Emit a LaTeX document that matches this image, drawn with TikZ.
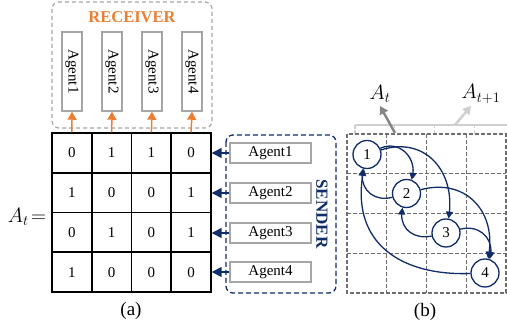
\documentclass[tikz,border=0pt]{standalone}
\usepackage{fontspec}
\setmainfont{Liberation Serif}
\usetikzlibrary{arrows.meta,bending}
\definecolor{orng}{HTML}{ED7D31}
\definecolor{navy}{RGB}{16,45,105}
\definecolor{boxgray}{HTML}{A6A6A6}
\definecolor{gridgray}{HTML}{6F6F6F}
\definecolor{lightg}{HTML}{CFCFCF}
\tikzset{
  txt/.style={font=\fontsize{15}{18}\selectfont, inner sep=0pt},
  cell/.style={draw=black, line width=1.5pt, minimum width=39.75pt, minimum height=39.75pt, txt},
  agentv/.style={draw=boxgray, line width=1.5pt, minimum width=79pt, minimum height=20pt, rotate=-90, txt},
  agenth/.style={draw=boxgray, line width=1.5pt, minimum width=81pt, minimum height=20pt, txt},
  oarrow/.style={draw=orng, line width=1.5pt, -{Triangle[width=9pt,length=8pt]}},
  narrow/.style={draw=navy, line width=1.5pt, -{Triangle[width=10pt,length=10pt]}},
  gnode/.style={circle, draw=navy, line width=1.3pt, fill=white, minimum size=28pt, txt},
  gedge/.style={draw=navy, line width=1.3pt, looseness=1.25, -{Triangle[width=7pt,length=7pt,bend]}},
  gline/.style={gridgray, dashed, dash pattern=on 4pt off 2pt, line width=1.3pt},
  lline/.style={lightg, dashed, dash pattern=on 4pt off 2pt, line width=1.3pt},
  mathlab/.style={font=\fontsize{21}{24}\selectfont, inner sep=0pt},
}
\begin{document}
\begin{tikzpicture}[x=1pt,y=-1pt]
\useasboundingbox (0,0) rectangle (507,328);
\clip (0,0) rectangle (507,328);

% receiver box
\draw[boxgray, dashed, dash pattern=on 4pt off 3pt, line width=1.2pt, rounded corners=7pt] (52,2) rectangle (212,128);
\node[font=\fontsize{16.5}{20}\selectfont\bfseries, text=orng, inner sep=0pt] (rlab) at (132,17) {RECEIVER};
\node[agentv] (r1) at (72,71.5) {Agent1};
\node[agentv] (r2) at (112,71.5) {Agent2};
\node[agentv] (r3) at (152,71.5) {Agent3};
\node[agentv] (r4) at (192,71.5) {Agent4};

% matrix
\node[cell] (m11) at (71.9,152.9) {0};
\node[cell] (m12) at (111.6,152.9) {1};
\node[cell] (m13) at (151.4,152.9) {1};
\node[cell] (m14) at (191.1,152.9) {0};
\node[cell] (m21) at (71.9,192.6) {1};
\node[cell] (m22) at (111.6,192.6) {0};
\node[cell] (m23) at (151.4,192.6) {0};
\node[cell] (m24) at (191.1,192.6) {1};
\node[cell] (m31) at (71.9,232.4) {0};
\node[cell] (m32) at (111.6,232.4) {1};
\node[cell] (m33) at (151.4,232.4) {0};
\node[cell] (m34) at (191.1,232.4) {1};
\node[cell] (m41) at (71.9,272.1) {1};
\node[cell] (m42) at (111.6,272.1) {0};
\node[cell] (m43) at (151.4,272.1) {0};
\node[cell] (m44) at (191.1,272.1) {0};

\node[mathlab] (alab) at (27,217) {$A_t\!=$};

\draw[oarrow] (m11.north) -- (r1.east);
\draw[oarrow] (m12.north) -- (r2.east);
\draw[oarrow] (m13.north) -- (r3.east);
\draw[oarrow] (m14.north) -- (r4.east);

% sender
\draw[navy, dashed, dash pattern=on 5pt off 3pt, line width=1.3pt, rounded corners=7pt] (226,135) rectangle (336,293);
\node[font=\fontsize{17}{20}\selectfont\bfseries, text=navy, rotate=-90, inner sep=0pt] (slab) at (322,214) {SENDER};
\node[agenth] (s1) at (270.5,153) {Agent1};
\node[agenth] (s2) at (270.5,193) {Agent2};
\node[agenth] (s3) at (270.5,233) {Agent3};
\node[agenth] (s4) at (270.5,272) {Agent4};
\draw[narrow] (s1.west) -- (m14.east |- s1.west);
\draw[narrow] (s2.west) -- (m24.east |- s2.west);
\draw[narrow] (s3.west) -- (m34.east |- s3.west);
\draw[narrow] (s4.west) -- (m44.east |- s4.west);

\node[font=\fontsize{19}{22}\selectfont, inner sep=0pt] (capa) at (131,311) {(a)};

% right panel grids
\draw[lline, step=39.75pt, shift={(355,125)}] (0,0) grid (159,159);
\draw[lline] (355,125) rectangle (514,284);
\fill[white] (347,134) rectangle (506,293);
\draw[gline] (347,134) rectangle (506,293);
\foreach \k in {1,2,3} {
  \draw[gline] (347+39.75*\k,134) -- (347+39.75*\k,293);
  \draw[gline] (347,134+39.75*\k) -- (506,134+39.75*\k);
}

\node[mathlab] (lat) at (380,94) {$A_t$};
\node[mathlab] (lat1) at (481,94) {$A_{t+1}$};
\coordinate (pa) at (395,133);
\coordinate (pb) at (455,125);
\draw[gridgray!85, line width=2.5pt, -{Triangle[width=9pt,length=8pt]}] (pa) -- (380,106);
\draw[lightg, line width=2.5pt, -{Triangle[width=9pt,length=8pt]}] (pb) -- (471,106);

\node[gnode] (n1) at (367,154.5) {1};
\node[gnode] (n2) at (406.5,193.5) {2};
\node[gnode] (n3) at (446,233) {3};
\node[gnode] (n4) at (485,273) {4};

\draw[gedge] (n1) to[out=25, in=70] (n2);
\draw[gedge] (n1) to[out=18, in=80] (n3);
\draw[gedge] (n2) to[out=15, in=78] (n4);
\draw[gedge] (n3) to[out=15, in=72] (n4);
\draw[gedge] (n2) to[out=195, in=255] (n1);
\draw[gedge] (n3) to[out=192, in=255] (n2);
\draw[gedge] (n4) to[out=182, in=258] (n1);

\node[font=\fontsize{19}{22}\selectfont, inner sep=0pt] (capb) at (425,312) {(b)};
\end{tikzpicture}
\end{document}
